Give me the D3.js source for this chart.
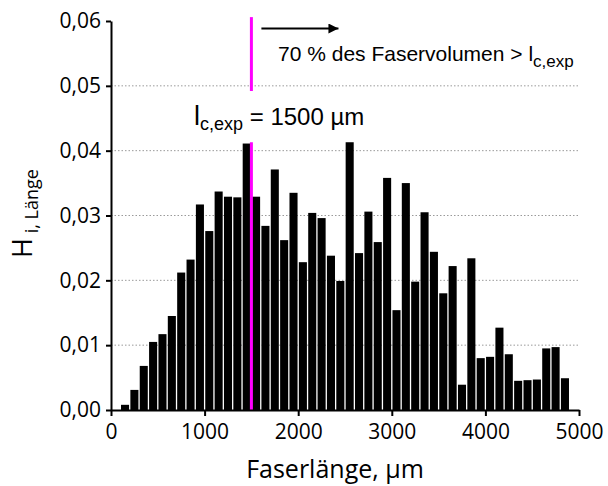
<!DOCTYPE html>
<html>
<head>
<meta charset="utf-8">
<script src="https://cdn.jsdelivr.net/npm/d3@7"></script>
<style>
  body { margin: 0; background: #fff; }
  svg { display: block; }
</style>
</head>
<body>
<script>
//Declare const variables
const width = 608;
const height = 486;
const margin = {top: 21, right: 29, bottom: 76, left: 111};

//Data: bin start (µm), bin width 100 µm, frequency H
const binStart = [100, 200, 300, 400, 500, 600, 700, 800, 900, 1000,
  1100, 1200, 1300, 1400, 1500, 1600, 1700, 1800, 1900, 2000,
  2100, 2200, 2300, 2400, 2500, 2600, 2700, 2800, 2900, 3000,
  3100, 3200, 3300, 3400, 3500, 3600, 3700, 3800, 3900, 4000,
  4100, 4200, 4300, 4400, 4500, 4600, 4700, 4800];
const binWidth = 100;
const freq = [0.0008, 0.0031, 0.0068, 0.0105, 0.0117, 0.0145, 0.0212, 0.0232, 0.0317, 0.0276,
  0.0337, 0.0329, 0.0328, 0.0411, 0.0329, 0.0284, 0.0371, 0.0262, 0.0335, 0.0228,
  0.0304, 0.0296, 0.0238, 0.0199, 0.0413, 0.0242, 0.0306, 0.0259, 0.0358, 0.0154,
  0.0350, 0.0198, 0.0305, 0.0244, 0.0180, 0.0222, 0.0039, 0.0234, 0.0080, 0.0082,
  0.0127, 0.0086, 0.0045, 0.0046, 0.0047, 0.0095, 0.0097, 0.0049];

const xTicks = [0, 1000, 2000, 3000, 4000, 5000];
const yTicks = [0, 0.01, 0.02, 0.03, 0.04, 0.05, 0.06];
const gridValues = [0.01, 0.02, 0.03, 0.04, 0.05];

//critical length marker
const lcExp = 1500;
const lcSegments = [[0.0492, 0.0606], [0, 0.0413]];

const locale = d3.formatLocale({decimal: ",", thousands: ".", grouping: [3], currency: ["", "€"]});
const fmtY = locale.format(".2f");

//Scales
const x = d3.scaleLinear()
  .domain([0, 5000])
  .range([margin.left, width - margin.right]);

const y = d3.scaleLinear()
  .domain([0, 0.06])
  .range([height - margin.bottom, margin.top]);

//SVG
const svg = d3.select("body")
  .append("svg")
  .attr("width", width)
  .attr("height", height);

//Gridlines
svg.append("g")
  .selectAll("line")
  .data(gridValues)
  .join("line")
  .attr("x1", x(0))
  .attr("x2", x(5000))
  .attr("y1", d => y(d))
  .attr("y2", d => y(d))
  .attr("stroke", "#9a9a9a")
  .attr("stroke-width", 1)
  .attr("stroke-dasharray", "1.5,2");

//Bars
svg.append("g")
  .selectAll("rect")
  .data(binStart)
  .join("rect")
  .attr("x", d => x(d) + 0.65)
  .attr("width", d => x(d + binWidth) - x(d) - 1.3)
  .attr("y", (d, i) => y(freq[i]))
  .attr("height", (d, i) => y(0) - y(freq[i]))
  .attr("fill", "#000");

//Magenta line at l_c,exp
svg.append("g")
  .selectAll("line")
  .data(lcSegments)
  .join("line")
  .attr("x1", x(lcExp))
  .attr("x2", x(lcExp))
  .attr("y1", d => y(d[0]))
  .attr("y2", d => y(d[1]))
  .attr("stroke", "#ff00ff")
  .attr("stroke-width", 3);

//Axes
const leftAxis = d3.axisLeft(y)
  .tickValues(yTicks)
  .tickFormat(fmtY)
  .tickSize(5)
  .tickSizeOuter(0)
  .tickPadding(5);

const bottomAxis = d3.axisBottom(x)
  .tickValues(xTicks)
  .tickFormat(d3.format("d"))
  .tickSize(6)
  .tickSizeOuter(0)
  .tickPadding(8);

const gx = svg.append("g")
  .attr("transform", "translate(0," + y(0) + ")")
  .call(bottomAxis);

const gy = svg.append("g")
  .attr("transform", "translate(" + x(0) + ",0)")
  .call(leftAxis);

[gx, gy].forEach(g => {
  g.select(".domain").attr("stroke", "#000").attr("stroke-width", 2);
  g.selectAll(".tick line").attr("stroke", "#000").attr("stroke-width", 2);
  g.selectAll(".tick text")
    .attr("fill", "#000")
    .style("font-family", "'Open Sans', sans-serif")
    .style("font-size", "21px");
});

//Axis titles
svg.append("text")
  .attr("x", (x(0) + x(5000)) / 2 - 10)
  .attr("y", 478)
  .attr("text-anchor", "middle")
  .style("font-family", "'Open Sans', sans-serif")
  .style("font-size", "25px")
  .text("Faserlänge, µm");

const yTitle = svg.append("text")
  .attr("transform", "translate(32," + (y(0.03) - 2) + ") rotate(-90)")
  .attr("text-anchor", "middle")
  .style("font-family", "'Open Sans', sans-serif");
yTitle.append("tspan").style("font-size", "27px").text("H");
yTitle.append("tspan").style("font-size", "18px").attr("dy", 6).text("\u00a0i, Länge");

//Arrow
svg.append("defs").append("marker")
  .attr("id", "arrow")
  .attr("viewBox", "0 0 10 10")
  .attr("refX", 10)
  .attr("refY", 5)
  .attr("markerUnits", "userSpaceOnUse")
  .attr("markerWidth", 15)
  .attr("markerHeight", 10)
  .attr("orient", "auto")
  .append("path")
  .attr("d", "M0,0 L10,5 L0,10 Z")
  .attr("fill", "#000");

svg.append("line")
  .attr("x1", x(lcExp) + 10)
  .attr("x2", x(2430))
  .attr("y1", 28.5)
  .attr("y2", 28.5)
  .attr("stroke", "#000")
  .attr("stroke-width", 2.2)
  .attr("marker-end", "url(#arrow)");

//Annotations
const note = svg.append("text")
  .attr("x", 278)
  .attr("y", 61)
  .style("font-family", "'Liberation Sans', Arial, sans-serif")
  .style("font-size", "21px");
note.append("tspan").text("70 % des Faservolumen > l");
note.append("tspan").attr("dy", 6).style("font-size", "17px").text("c,exp");

const lc = svg.append("text")
  .attr("x", 194)
  .attr("y", 125)
  .style("font-family", "'Liberation Sans', Arial, sans-serif")
  .style("font-size", "24px");
lc.append("tspan").style("font-size", "27px").text("l");
lc.append("tspan").attr("dy", 5).style("font-size", "18px").text("c,exp");
lc.append("tspan").attr("dy", -5).text(" = 1500 µm");
</script>
</body>
</html>
